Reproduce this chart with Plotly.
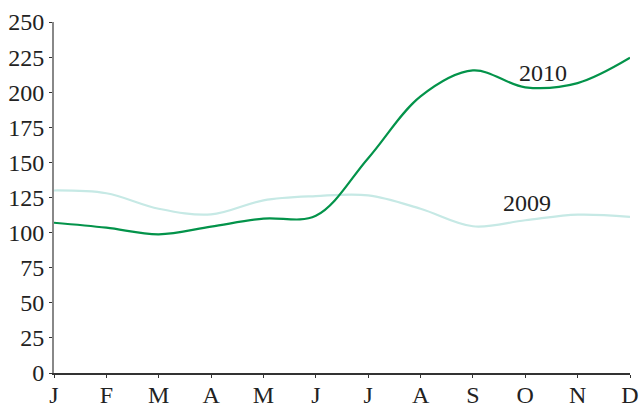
import plotly.graph_objects as go

months = ["J", "F", "M", "A", "M", "J", "J", "A", "S", "O", "N", "D"]
values_2009 = [130, 128, 117, 113, 123, 126, 126.5, 117, 104.5, 108.8, 112.8, 111.2]
values_2010 = [107, 103.5, 98.8, 104.3, 110, 112, 153, 197, 215.5, 203.5, 206.5, 224.5]
label_2010 = ("2010", 9.33, 213.5)
label_2009 = ("2009", 9.03, 121)

x = list(range(len(months)))
font_family = "Liberation Serif, Times New Roman, serif"

fig = go.Figure()
fig.add_trace(go.Scatter(x=x, y=values_2009, mode="lines", name="2009",
                         line=dict(color="#C6E9E5", width=2.2, shape="spline", smoothing=1)))
fig.add_trace(go.Scatter(x=x, y=values_2010, mode="lines", name="2010",
                         line=dict(color="#03934A", width=2.2, shape="spline", smoothing=1)))

for txt, ax, ay in (label_2010, label_2009):
    fig.add_annotation(x=ax, y=ay, text=txt, showarrow=False,
                       font=dict(family=font_family, size=24, color="#222"))

fig.update_layout(
    width=639, height=405,
    margin=dict(l=54, r=9, t=22, b=32),
    paper_bgcolor="white", plot_bgcolor="white",
    showlegend=False,
    font=dict(family=font_family, size=24, color="#222"),
)
fig.update_xaxes(range=[0, 11], tickvals=x, ticktext=months, automargin=False,
                 showgrid=False, zeroline=False,
                 showline=True, linecolor="#333", linewidth=1.5,
                 ticks="outside", ticklen=3, tickcolor="#333", tickwidth=1,
                 ticklabelstandoff=-4,
                 tickfont=dict(size=24))
fig.update_yaxes(range=[0, 250], dtick=25, tick0=0, automargin=False,
                 showgrid=False, zeroline=False,
                 showline=True, linecolor="#888", linewidth=2,
                 ticks="outside", ticklen=3, tickcolor="#333", tickwidth=1,
                 tickfont=dict(size=24))

fig.write_html("out.html", config={"displayModeBar": False},
               post_script="document.body.style.margin='0';document.body.style.overflow='hidden';")
